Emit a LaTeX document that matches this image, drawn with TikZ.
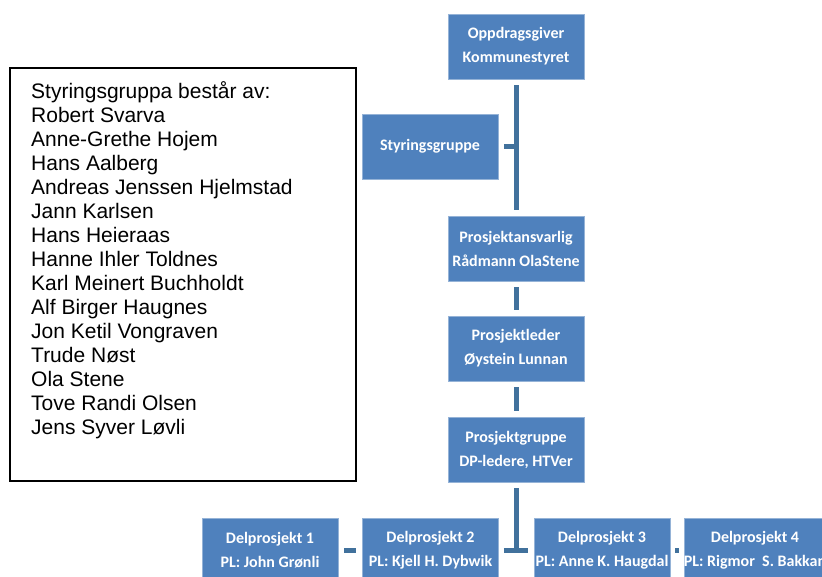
\documentclass[tikz,border=0pt]{standalone}
\usepackage{fontspec}
\setmainfont{Liberation Sans}
\newfontfamily\boxfont{Carlito}
\usepackage{xcolor}
\usetikzlibrary{positioning}

\definecolor{orgblue}{HTML}{4F81BD}
\definecolor{lineblue}{HTML}{41719C}

\tikzset{
    orgbox/.style={fill=orgblue, draw=orgblue!60!white, line width=0.5pt, text=white,
        minimum width=136pt, minimum height=65pt, inner sep=0pt, align=center,
        font=\boxfont\bfseries\fontsize{16}{24}\selectfont},
    conn/.style={draw=lineblue, line width=5pt, shorten <=6pt, shorten >=6pt}
}

\begin{document}
\begin{tikzpicture}[x=1pt, y=-1pt]
    \useasboundingbox (0,0) rectangle (822,576);
    \clip (0,0) rectangle (822,576);

    % Members of the steering group
    \draw[line width=1.5pt] (10,68) rectangle (356,481);
    \node[anchor=north west, inner sep=0pt, align=left, font=\fontsize{21}{24}\selectfont] (members) at (31,81)
        {Styringsgruppa består av:\\Robert Svarva\\Anne-Grethe Hojem\\Hans Aalberg\\Andreas Jenssen Hjelmstad\\Jann Karlsen\\Hans Heieraas\\Hanne Ihler Toldnes\\Karl Meinert Buchholdt\\Alf Birger Haugnes\\Jon Ketil Vongraven\\Trude Nøst\\Ola Stene\\Tove Randi Olsen\\Jens Syver Løvli};

    % Main line
    \node[orgbox] (oppdrag) at (516,46.5) {Oppdragsgiver\\Kommunestyret};
    \node[orgbox] (styring) at (430,146.5) {Styringsgruppe};
    \node[orgbox] (ansvar) at (516,248.5) {Prosjektansvarlig\\Rådmann OlaStene};
    \node[orgbox] (leder) at (516,348.5) {Prosjektleder\\Øystein Lunnan};
    \node[orgbox] (gruppe) at (516,449.5) {Prosjektgruppe\\DP-ledere, HTVer};

    % Sub-projects
    \node[orgbox] (dp1) at (270,550.5) {Delprosjekt 1\\PL: John Grønli};
    \node[orgbox] (dp2) at (430.5,550.5) {Delprosjekt 2\\PL: Kjell H. Dybwik};
    \node[orgbox] (dp3) at (602,550.5) {Delprosjekt 3\\PL: Anne K. Haugdal};
    \node[orgbox] (dp4) at (755,550.5) {Delprosjekt 4\\PL: Rigmor\ \ S. Bakkan};

    % Connectors
    \draw[conn] (oppdrag) -- (ansvar);
    \draw[conn, shorten >=0pt] (styring.east) -- (styring.east -| oppdrag.south);
    \draw[conn] (ansvar) -- (leder);
    \draw[conn] (leder) -- (gruppe);
    \coordinate (tee) at (gruppe.south |- dp2.east);
    \draw[conn, shorten >=0pt] (gruppe) -- (tee);
    \draw[conn, shorten <=5pt] (dp2) -- (dp3);
    \draw[conn] (dp1) -- (dp2);
    \draw[conn, shorten <=5pt, shorten >=5pt] (dp3) -- (dp4);
\end{tikzpicture}
\end{document}
